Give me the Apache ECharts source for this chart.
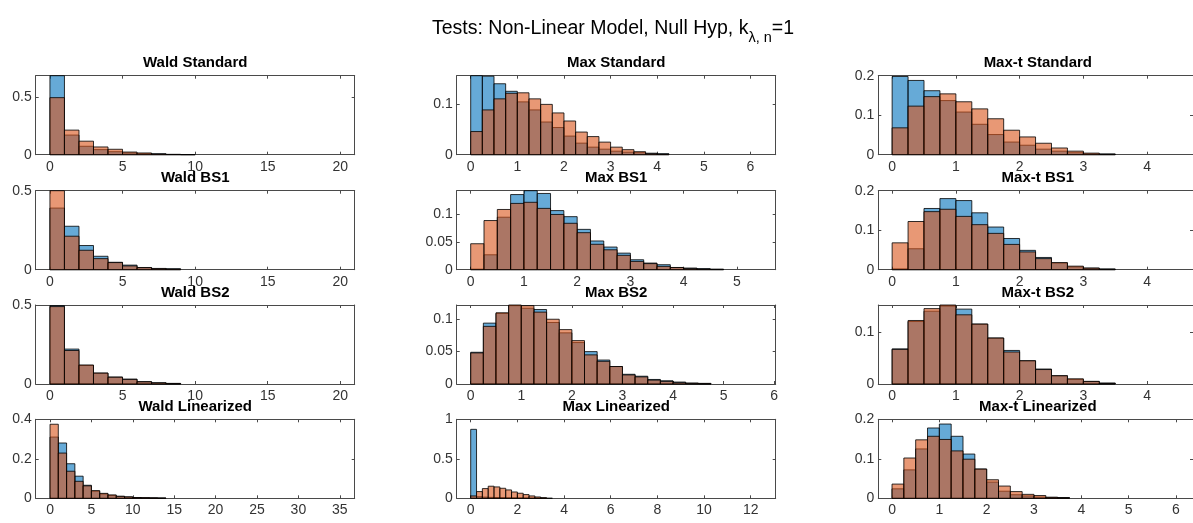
<!DOCTYPE html>
<html><head><meta charset="utf-8">
<script src="https://cdn.jsdelivr.net/npm/echarts@6/dist/echarts.min.js"></script>
<style>html,body{margin:0;padding:0;background:#fff}#c{width:1193px;height:523px}</style>
</head><body><div id="c"></div>
<script>
// ---------------- data ----------------
const mainTitle = 'Tests: Non-Linear Model, Null Hyp, k';
const mainSub = 'λ, n';
const mainTail = '=1';
const titles = ['Wald Standard','Max Standard','Max-t Standard',
                'Wald BS1','Max BS1','Max-t BS1',
                'Wald BS2','Max BS2','Max-t BS2',
                'Wald Linearized','Max Linearized','Max-t Linearized'];
const binWidths = [1,0.25,0.25, 1,0.25,0.25, 1,0.25,0.25, 1,0.25,0.25];

const waldStdBlue   = [0.684,0.170,0.073,0.044,0.026,0.015,0.009,0.008,0.002,0.001];
const waldStdOrange = [0.494,0.213,0.117,0.067,0.047,0.023,0.015,0.006,0.003,0.001];
const maxStdBlue    = [0.157,0.156,0.141,0.126,0.105,0.089,0.065,0.054,0.037,0.023,0.015,0.011,0.007,0.005,0.004,0.003,0.002];
const maxStdOrange  = [0.046,0.089,0.111,0.122,0.123,0.111,0.100,0.083,0.067,0.045,0.036,0.025,0.015,0.010,0.006,0.002,0.001];
const maxtStdBlue   = [0.198,0.188,0.162,0.137,0.108,0.077,0.051,0.032,0.024,0.014,0.009,0.005,0.002,0.002];
const maxtStdOrange = [0.068,0.123,0.147,0.154,0.134,0.116,0.091,0.062,0.045,0.029,0.017,0.009,0.004,0.001];

const waldBS1Blue   = [0.390,0.275,0.153,0.085,0.047,0.029,0.014,0.008,0.006];
const waldBS1Orange = [0.500,0.212,0.123,0.070,0.045,0.024,0.013,0.006,0.004];
const maxBS1Blue    = [0.001,0.027,0.095,0.136,0.143,0.138,0.107,0.096,0.073,0.052,0.041,0.030,0.018,0.012,0.009,0.004,0.003,0.002,0.001];
const maxBS1Orange  = [0.047,0.089,0.109,0.120,0.122,0.111,0.100,0.084,0.067,0.046,0.036,0.026,0.015,0.011,0.006,0.004,0.002,0.001,0.0005];
const maxtBS1Blue   = [0.002,0.053,0.155,0.180,0.175,0.144,0.108,0.079,0.049,0.031,0.017,0.007,0.004,0.002];
const maxtBS1Orange = [0.068,0.122,0.147,0.153,0.135,0.114,0.092,0.064,0.045,0.028,0.018,0.009,0.004,0.001];

const waldBS2Blue   = [0.496,0.221,0.118,0.069,0.044,0.031,0.015,0.008,0.004];
const waldBS2Orange = [0.490,0.212,0.120,0.069,0.043,0.029,0.014,0.007,0.003];
const maxBS2Blue    = [0.049,0.094,0.109,0.121,0.117,0.115,0.095,0.079,0.064,0.050,0.037,0.027,0.015,0.012,0.007,0.005,0.003,0.0015,0.001];
const maxBS2Orange  = [0.048,0.089,0.110,0.122,0.121,0.111,0.100,0.084,0.067,0.045,0.035,0.027,0.014,0.011,0.006,0.004,0.002,0.001,0.0005];
const maxtBS2Blue   = [0.068,0.121,0.141,0.151,0.145,0.116,0.089,0.065,0.045,0.029,0.016,0.009,0.005,0.002];
const maxtBS2Orange = [0.067,0.123,0.146,0.153,0.134,0.116,0.089,0.062,0.045,0.028,0.016,0.010,0.005,0.001];

const waldLinBlue   = [0.310,0.280,0.175,0.112,0.066,0.036,0.022,0.015,0.010,0.007,0.004,0.003,0.002,0.001];
const waldLinOrange = [0.375,0.229,0.137,0.086,0.063,0.039,0.025,0.017,0.010,0.007,0.004,0.003,0.002,0.001];
const maxLinBlue    = [0.873,0.020,0.015,0.012,0.010,0.008,0.006,0.005,0.004,0.003,0.002,0.002,0.001,0.001];
const maxLinOrange  = [0.030,0.085,0.123,0.153,0.144,0.127,0.106,0.080,0.064,0.047,0.030,0.017,0.008];
const maxtLinBlue   = [0.024,0.072,0.125,0.178,0.188,0.157,0.112,0.074,0.041,0.018,0.009,0.006,0.003,0.0025,0.002];
const maxtLinOrange = [0.036,0.102,0.148,0.157,0.149,0.120,0.099,0.074,0.047,0.031,0.017,0.010,0.007,0.0025,0.001];

const blueSeries = [waldStdBlue,maxStdBlue,maxtStdBlue,waldBS1Blue,maxBS1Blue,maxtBS1Blue,
                    waldBS2Blue,maxBS2Blue,maxtBS2Blue,waldLinBlue,maxLinBlue,maxtLinBlue];
const orangeSeries = [waldStdOrange,maxStdOrange,maxtStdOrange,waldBS1Orange,maxBS1Orange,maxtBS1Orange,
                      waldBS2Orange,maxBS2Orange,maxtBS2Orange,waldLinOrange,maxLinOrange,maxtLinOrange];

const xTicksWald    = [0,5,10,15,20];
const xTicksWaldLin = [0,5,10,15,20,25,30,35];
const xTicksMax6    = [0,1,2,3,4,5,6];
const xTicksMax5    = [0,1,2,3,4,5];
const xTicksMaxLin  = [0,2,4,6,8,10,12];
const xTicksMaxT    = [0,1,2,3,4];
const xTicksMaxTLin = [0,1,2,3,4,5,6];
const xTicks = [xTicksWald,xTicksMax6,xTicksMaxT, xTicksWald,xTicksMax5,xTicksMaxT,
                xTicksWald,xTicksMax6,xTicksMaxT, xTicksWaldLin,xTicksMaxLin,xTicksMaxTLin];
const yTicks = [[0,0.5],[0,0.1],[0,0.1,0.2],
                [0,0.5],[0,0.05,0.1],[0,0.1,0.2],
                [0,0.5],[0,0.05,0.1],[0,0.1],
                [0,0.2,0.4],[0,0.5,1],[0,0.1,0.2]];
const xMins = [-0.98,-0.30,-0.217, -0.98,-0.263,-0.217, -0.98,-0.277,-0.217, -1.73,-0.60,-0.29];
const xMaxs = [20.99,6.54,4.72, 20.99,5.73,4.72, 20.99,6.03,4.72, 36.8,13.07,6.36];
const yMaxs = [0.684,0.157,0.2, 0.5,0.143,0.2, 0.5,0.122,0.153, 0.4,1,0.2];

// ---------------- layout ----------------
const colLeft = [35.7, 456.7, 878.3];
const plotW = 319;
const rowTop = [75.7, 190.7, 305, 419.3];
const plotH = 79;

const FONT = '"Liberation Sans", Arial, Helvetica, sans-serif';
const AXC = '#4a4a4a';
const LBC = '#333333';
const blueFill = 'rgba(0,114,189,0.6)';
const orangeFill = 'rgba(217,83,25,0.6)';
const edge = 'rgba(0,0,0,0.8)';

const grids = [], xAxes = [], yAxes = [], series = [], titleComps = [];
titleComps.push({
  text: '{a|' + mainTitle + '}{s|' + mainSub + '}{a|' + mainTail + '}',
  left: 432, top: 19, padding: 0,
  textStyle: { rich: {
    a: { fontFamily: FONT, fontSize: 19.5, color: '#000', fontWeight: 'normal', verticalAlign: 'top', lineHeight: 24 },
    s: { fontFamily: FONT, fontSize: 14.5, color: '#000', fontWeight: 'normal', verticalAlign: 'top', padding: [11,0,0,0], lineHeight: 24 }
  }}
});

function makeRender(fill) {
  return function (params, api) {
    const x0 = api.value(0), x1 = api.value(1), h = api.value(2);
    const p0 = api.coord([x0, h]);
    const p1 = api.coord([x1, 0]);
    return { type: 'rect',
      shape: { x: p0[0], y: p0[1], width: p1[0] - p0[0], height: p1[1] - p0[1] },
      style: { fill: fill, stroke: edge, lineWidth: 1 } };
  };
}

for (let i = 0; i < 12; i++) {
  const r = Math.floor(i / 3), c = i % 3;
  grids.push({ left: colLeft[c], top: rowTop[r], width: plotW, height: plotH, containLabel: false });
  const base = { type: 'value', gridIndex: i, min: xMins[i], max: xMaxs[i], splitLine: { show: false } };
  xAxes.push(Object.assign({}, base, {
    position: 'bottom',
    axisLine: { show: true, onZero: false, lineStyle: { color: AXC, width: 1 } },
    axisTick: { show: true, inside: true, length: 3, customValues: xTicks[i], lineStyle: { color: AXC } },
    axisLabel: { show: true, customValues: xTicks[i], fontFamily: FONT, fontSize: 14, color: LBC, margin: 5 }
  }));
  xAxes.push(Object.assign({}, base, {
    position: 'top',
    axisLine: { show: true, onZero: false, lineStyle: { color: AXC, width: 1 } },
    axisTick: { show: true, inside: true, length: 3, customValues: xTicks[i], lineStyle: { color: AXC } },
    axisLabel: { show: false }
  }));
  const ybase = { type: 'value', gridIndex: i, min: 0, max: yMaxs[i], splitLine: { show: false } };
  yAxes.push(Object.assign({}, ybase, {
    position: 'left',
    axisLine: { show: true, onZero: false, lineStyle: { color: AXC, width: 1 } },
    axisTick: { show: true, inside: true, length: 3, customValues: yTicks[i], lineStyle: { color: AXC } },
    axisLabel: { show: true, customValues: yTicks[i], fontFamily: FONT, fontSize: 14, color: LBC, margin: 4 }
  }));
  yAxes.push(Object.assign({}, ybase, {
    position: 'right',
    axisLine: { show: true, onZero: false, lineStyle: { color: AXC, width: 1 } },
    axisTick: { show: true, inside: true, length: 3, customValues: yTicks[i], lineStyle: { color: AXC } },
    axisLabel: { show: false }
  }));
  const w = binWidths[i];
  const bData = blueSeries[i].map((v, k) => [k * w, (k + 1) * w, v]);
  const oData = orangeSeries[i].map((v, k) => [k * w, (k + 1) * w, v]);
  series.push({ type: 'custom', xAxisIndex: 2 * i, yAxisIndex: 2 * i, renderItem: makeRender(blueFill), data: bData, encode: { x: [0, 1], y: 2 }, silent: true, z: 2 });
  series.push({ type: 'custom', xAxisIndex: 2 * i, yAxisIndex: 2 * i, renderItem: makeRender(orangeFill), data: oData, encode: { x: [0, 1], y: 2 }, silent: true, z: 3 });
  titleComps.push({
    text: titles[i], left: colLeft[c] + plotW / 2, textAlign: 'center', top: rowTop[r] - 20, padding: 0,
    textStyle: { fontFamily: FONT, fontSize: 15, fontWeight: 'bold', color: '#000' }
  });
}

const chart = echarts.init(document.getElementById('c'), null, { renderer: 'canvas' });
chart.setOption({
  animation: false,
  backgroundColor: '#ffffff',
  title: titleComps,
  grid: grids, xAxis: xAxes, yAxis: yAxes, series: series
});
</script></body></html>
